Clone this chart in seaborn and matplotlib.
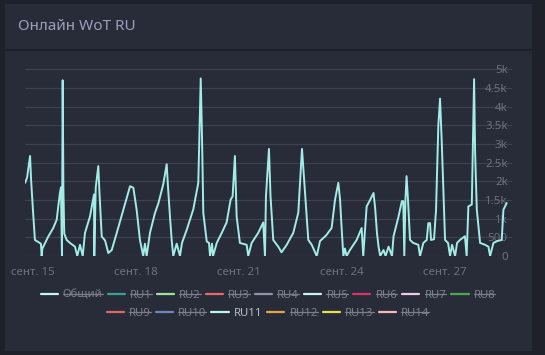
import pandas as pd
import matplotlib.pyplot as plt
import matplotlib.dates as mdates
from matplotlib.lines import Line2D
from matplotlib.patches import Rectangle
import seaborn as sns

# --- data ---
# hours since 15 Sept 00:00, players online on RU11
hours = [-5.2, -3.8, -1.7, -1.0, 0.3, 1.7, 3.8, 5.9, 6.4, 6.9, 11.0, 14.5, 16.9, 19.2, 19.9,
         20.6, 21.1, 21.6, 22.2, 23.9, 26.2, 29.7, 31.3, 33.2, 35.1, 36.7, 40.2, 43.0, 43.2,
         44.2, 46.0, 46.7, 48.4, 50.7, 53.0, 55.4, 58.9, 63.5, 68.2, 70.5, 72.8, 75.1, 77.4,
         78.6, 79.8, 82.1, 85.6, 87.9, 91.4, 93.8, 94.7, 96.1, 97.3, 98.4, 100.8, 103.1,
         104.5, 107.8, 112.4, 115.9, 117.6, 118.5, 119.4, 121.8, 123.4, 124.1, 125.5, 126.2,
         128.8, 132.3, 135.7, 138.5, 139.9, 141.5, 142.7, 145.0, 149.7, 150.8, 153.2, 157.8,
         161.3, 162.5, 163.2, 165.3, 166.4, 168.3, 171.8, 174.1, 177.7, 182.3, 185.8, 188.4,
         190.5, 192.8, 195.2, 198.7, 201.0, 205.2, 209.1, 211.5, 213.8, 215.0, 216.1, 217.3,
         218.4, 219.6, 221.9, 226.6, 230.1, 231.2, 233.6, 236.1, 238.4, 239.5, 240.8, 241.9,
         243.1, 245.4, 246.8, 248.9, 251.3, 252.4, 255.9, 258.2, 259.2, 259.9, 260.7, 261.5,
         262.5, 263.9, 266.2, 269.7, 270.9, 273.2, 275.6, 276.7, 277.9, 278.6, 280.7, 282.1,
         283.7, 284.9, 286.1, 288.4, 290.5, 291.9, 293.3, 295.4, 296.8, 298.8, 302.3, 303.5,
         304.7, 307.1, 308.7, 309.4, 310.6, 312.9, 316.4, 318.7, 319.9, 322.2, 324.8, 328.0,
         329.2, 331.5]
online = [1960, 2100, 2680, 2050, 1240, 430, 380, 330, 0, 200, 520, 750, 970, 1700, 1840,
          0, 4710, 1800, 600, 430, 350, 250, 0, 300, 0, 620, 1060, 1650, 0,
          1830, 2410, 1790, 520, 420, 80, 160, 620, 1240, 1870, 1830, 1240, 430, 0,
          330, 0, 620, 1150, 1400, 1920, 2460, 1870, 1060, 430, 0, 330, 0,
          350, 700, 1250, 1960, 4760, 3200, 1160, 390, 350, 0, 330, 0,
          350, 620, 900, 1510, 1600, 2680, 1060, 350, 300, 0, 350, 620,
          900, 0, 1600, 2870, 1600, 430, 250, 100, 300, 620, 1160, 2870,
          1700, 430, 300, 0, 400, 550, 750, 1510, 1960, 1510, 750, 0,
          200, 0, 160, 430, 750, 0, 1330, 1510, 1690, 1300, 620, 250,
          0, 160, 0, 250, 0, 530, 1060, 1470, 1470, 0, 1500, 2140,
          1500, 430, 350, 300, 0, 350, 430, 880, 880, 430, 450, 1240,
          3500, 4220, 3050, 430, 350, 0, 300, 0, 350, 430, 530, 0,
          1330, 1380, 4740, 2800, 1240, 350, 300, 250, 0, 350, 400, 430,
          1240, 1420]

servers = ['Общий', 'RU1', 'RU2', 'RU3', 'RU4', 'RU5', 'RU6', 'RU7', 'RU8',
           'RU9', 'RU10', 'RU11', 'RU12', 'RU13', 'RU14']
shown = ['RU11']
tick_days = ['2023-09-15', '2023-09-18', '2023-09-21', '2023-09-24', '2023-09-27']
tick_labels = ['сент. 15', 'сент. 18', 'сент. 21', 'сент. 24', 'сент. 27']
y_ticks = [0, 500, 1000, 1500, 2000, 2500, 3000, 3500, 4000, 4500, 5000]
y_labels = ['0', '500', '1k', '1.5k', '2k', '2.5k', '3k', '3.5k', '4k', '4.5k', '5k']

server_colors = ['#c8f4f2', '#3f9c97', '#9be39a', '#e46a6a', '#8a96a8', '#c8f4f2',
                 '#d8336b', '#ecc8ea', '#4caa4c', '#d86a6a', '#6f86b8', '#bdf3f0',
                 '#e8a449', '#e8e04a', '#f2b8be']

start = pd.Timestamp('2023-09-15')
df = pd.DataFrame({'time': start + pd.to_timedelta(hours, unit='h'), 'online': online})

# --- style ---
sns.set_theme(style='dark')
plt.rcParams['font.family'] = ['Noto Sans', 'DejaVu Sans']

outer = '#1e2129'
card = '#282c38'
grid_c = '#3e424f'
tick_c = '#6d717e'
line_c = '#a3ece5'

fig = plt.figure(figsize=(5.45, 3.55), dpi=100, facecolor=outer)
fig.patches.append(Rectangle((5 / 545, 4 / 355), 527 / 545, 347 / 355,
                             transform=fig.transFigure, facecolor=card, edgecolor='none', zorder=-5))
fig.add_artist(Line2D([5 / 545, 532 / 545], [1 - 50 / 355] * 2, color=outer, lw=1.6, zorder=-4))
fig.text(18 / 545, 1 - 27 / 355, 'Онлайн WoT RU', color='#9c9fbb', fontsize=11,
         va='center', ha='left')

ax = fig.add_axes([25 / 545, 1 - 256 / 355, 487 / 545, 194 / 355])
ax.set_facecolor(card)
sns.lineplot(data=df, x='time', y='online', ax=ax, color=line_c, lw=1.4)

ax.set_xlim(start - pd.Timedelta(hours=5.24), start + pd.Timedelta(hours=335.2))
ax.set_ylim(0, 5200)
ax.set_xlabel('')
ax.set_ylabel('')
for s in ax.spines.values():
    s.set_visible(False)

ax.set_yticks(y_ticks)
ax.set_yticklabels(y_labels)
ax.yaxis.tick_right()
ax.grid(axis='y', color=grid_c, lw=0.9)
ax.grid(axis='x', visible=False)
ax.set_axisbelow(True)
ax.tick_params(axis='y', length=0, pad=-3, labelsize=8.3, labelcolor=tick_c)
for t in ax.get_yticklabels():
    t.set_ha('right')

ax.set_xticks(mdates.date2num(pd.to_datetime(tick_days)))
ax.set_xticklabels(tick_labels)
ax.tick_params(axis='x', length=0, pad=8, labelsize=8.3, labelcolor=tick_c)

# legend: two centred rows, hidden series struck through
handles = [Line2D([], [], color=c, lw=1.6) for c in server_colors]
rows = [(0, 9, 295), (9, 15, 313)]
legends = []
for a, b, yc in rows:
    lg = fig.legend(handles[a:b], servers[a:b], loc='center', ncol=b - a,
                    bbox_to_anchor=(268 / 545, 1 - yc / 355), frameon=False,
                    fontsize=8.2, handlelength=1.5, handletextpad=0.45,
                    columnspacing=0.45, borderpad=0)
    legends.append(lg)

fig.canvas.draw()
r = fig.canvas.get_renderer()
for lg in legends:
    for t in lg.get_texts():
        name = t.get_text()
        if name in shown:
            t.set_color('#b8bcc8')
            continue
        t.set_color('#7b7f8b')
        bb = t.get_window_extent(r).transformed(fig.transFigure.inverted())
        ym = bb.y0 + bb.height * 0.62
        fig.add_artist(Line2D([bb.x0, bb.x1], [ym, ym], color='#7b7f8b', lw=0.9))

fig.savefig('out.png', dpi=100, facecolor=outer)
